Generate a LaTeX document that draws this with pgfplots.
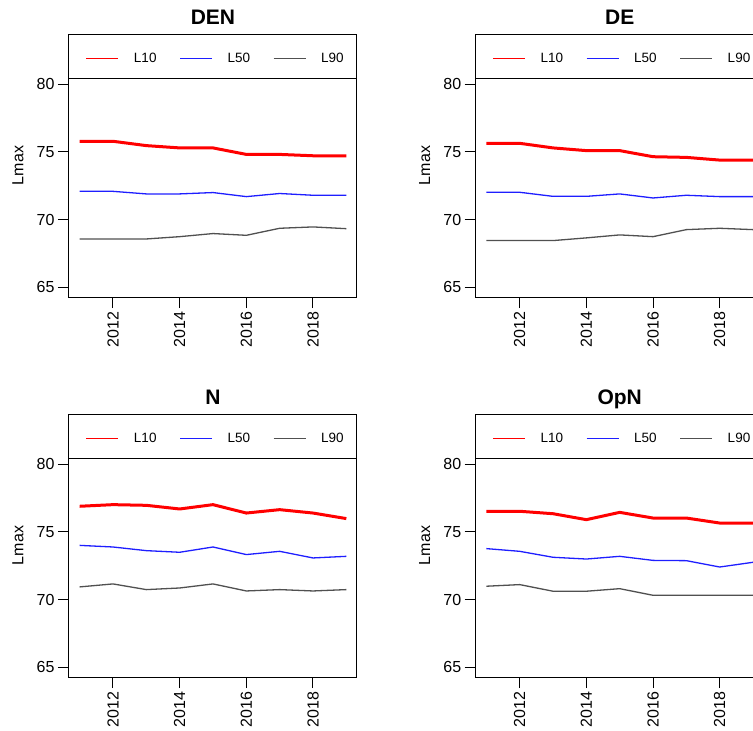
\documentclass[border=0pt]{standalone}
\usepackage{fontspec}
\setmainfont{Liberation Sans}
\usepackage{pgfplots}
\pgfplotsset{compat=1.18}
\definecolor{cL10}{RGB}{255,0,0}
\definecolor{cL50}{RGB}{30,30,255}
\definecolor{cL90}{RGB}{80,80,80}
\pgfplotsset{
  panel/.style={
    scale only axis, width=288pt, height=263pt,
    xmin=2010.68, xmax=2019.32, ymin=64.28, ymax=83.72,
    xtick={2012,2014,2016,2018}, ytick={65,70,75,80},
    xtick pos=lower, ytick pos=left,
    tick align=outside, major tick length=11pt,
    tick style={line width=1pt, black},
    axis line style={line width=1pt, black},
    /pgf/number format/assume math mode=true,
    /pgf/number format/set thousands separator={},
    ticklabel style={font=\fontsize{16}{18}\selectfont},
    xticklabel style={rotate=90, anchor=east},
    ylabel={Lmax},
    ylabel style={at={(axis description cs:-0.177,0.5)}, anchor=center, font=\fontsize{16}{18}\selectfont},
    title style={at={(axis description cs:0.5,1.0152)}, anchor=base, inner sep=0pt, font=\fontsize{21}{24}\selectfont\bfseries},
    legend columns=3,
    legend style={at={(axis description cs:0.059,0.9076)}, anchor=west, draw=none, fill=none,
      inner sep=0pt, outer sep=0pt, font=\fontsize{13.5}{15}\selectfont,
      nodes={inner sep=0pt},
      /tikz/every odd column/.append style={column sep=15pt},
      /tikz/every even column/.append style={column sep=23pt}},
    legend cell align=left,
    legend image code/.code={\draw[##1, line width=1pt] (0pt,0pt) -- (32pt,0pt);},
  },
  l10/.style={cL10, line width=3pt},
  l50/.style={cL50, line width=1.3pt},
  l90/.style={cL90, line width=1.3pt},
}
\begin{document}
\begin{tikzpicture}
\useasboundingbox (0pt,0pt) rectangle (753pt,-731pt);
% DEN
\begin{axis}[panel, at={(69pt,-297pt)}, anchor=south west, title={DEN}]
\addplot[l10] table {
2011 75.79
2012 75.79
2013 75.47
2014 75.30
2015 75.30
2016 74.82
2017 74.82
2018 74.72
2019 74.72
};
\addplot[l50] table {
2011 72.09
2012 72.09
2013 71.90
2014 71.90
2015 72.00
2016 71.70
2017 71.93
2018 71.80
2019 71.80
};
\addplot[l90] table {
2011 68.57
2012 68.57
2013 68.57
2014 68.74
2015 68.97
2016 68.84
2017 69.36
2018 69.46
2019 69.33
};
\legend{L10,L50,L90}
\draw[line width=1pt, black] (rel axis cs:0,0.829) -- (rel axis cs:1,0.829);
\end{axis}
% DE
\begin{axis}[panel, at={(475.7pt,-297pt)}, anchor=south west, title={DE}]
\addplot[l10] table {
2011 75.64
2012 75.64
2013 75.30
2014 75.10
2015 75.10
2016 74.65
2017 74.60
2018 74.40
2019 74.40
};
\addplot[l50] table {
2011 72.02
2012 72.02
2013 71.72
2014 71.72
2015 71.90
2016 71.60
2017 71.80
2018 71.70
2019 71.70
};
\addplot[l90] table {
2011 68.45
2012 68.45
2013 68.45
2014 68.65
2015 68.87
2016 68.74
2017 69.26
2018 69.36
2019 69.26
};
\legend{L10,L50,L90}
\draw[line width=1pt, black] (rel axis cs:0,0.829) -- (rel axis cs:1,0.829);
\end{axis}
% N
\begin{axis}[panel, at={(69pt,-677pt)}, anchor=south west, title={N}]
\addplot[l10] table {
2011 76.90
2012 77.02
2013 76.97
2014 76.70
2015 77.02
2016 76.40
2017 76.65
2018 76.40
2019 75.99
};
\addplot[l50] table {
2011 74.01
2012 73.89
2013 73.62
2014 73.50
2015 73.89
2016 73.33
2017 73.57
2018 73.08
2019 73.20
};
\addplot[l90] table {
2011 70.94
2012 71.16
2013 70.74
2014 70.86
2015 71.16
2016 70.64
2017 70.74
2018 70.64
2019 70.74
};
\legend{L10,L50,L90}
\draw[line width=1pt, black] (rel axis cs:0,0.829) -- (rel axis cs:1,0.829);
\end{axis}
% OpN
\begin{axis}[panel, at={(475.7pt,-677pt)}, anchor=south west, title={OpN}]
\addplot[l10] table {
2011 76.53
2012 76.53
2013 76.35
2014 75.91
2015 76.45
2016 76.03
2017 76.03
2018 75.66
2019 75.66
};
\addplot[l50] table {
2011 73.77
2012 73.57
2013 73.13
2014 73.00
2015 73.20
2016 72.90
2017 72.88
2018 72.41
2019 72.76
};
\addplot[l90] table {
2011 70.99
2012 71.11
2013 70.62
2014 70.62
2015 70.81
2016 70.32
2017 70.32
2018 70.32
2019 70.32
};
\legend{L10,L50,L90}
\draw[line width=1pt, black] (rel axis cs:0,0.829) -- (rel axis cs:1,0.829);
\end{axis}
\end{tikzpicture}
\end{document}
